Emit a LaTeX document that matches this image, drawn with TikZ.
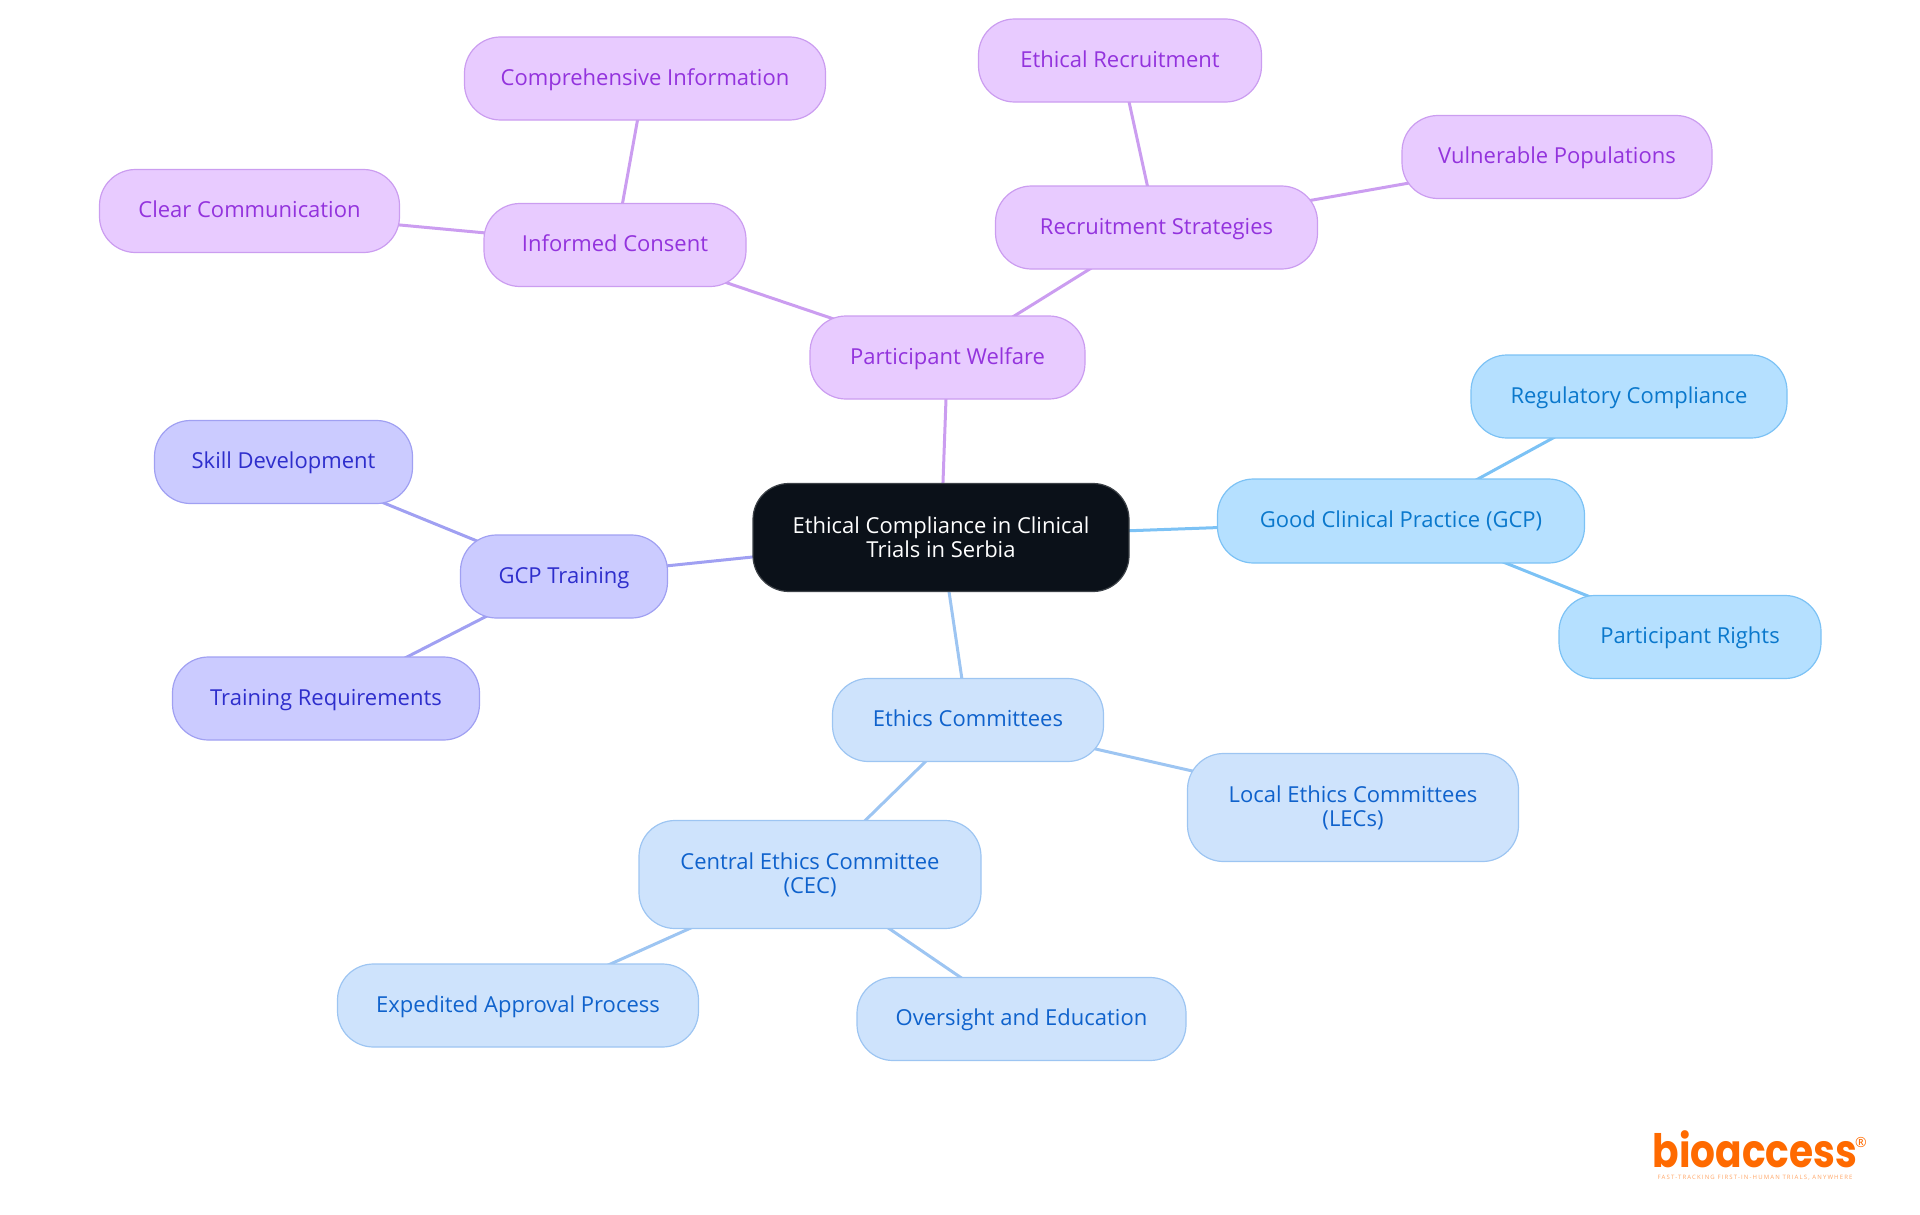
\documentclass[tikz,border=0pt]{standalone}
\usepackage{fontspec}
\usepackage{graphicx}
\setmainfont{Open Sans}
\newfontfamily\logofont{Poppins}
\newfontfamily\taglinefont[LetterSpace=19]{Open Sans}
\usetikzlibrary{backgrounds}
\definecolor{rootfill}{HTML}{0B1119}
\definecolor{purplefill}{HTML}{E8CBFF}
\definecolor{purpleline}{HTML}{CB9DF0}
\definecolor{purpletext}{HTML}{9333DD}
\definecolor{skyfill}{HTML}{B5E0FF}
\definecolor{skyline}{HTML}{7CC2F5}
\definecolor{skytext}{HTML}{0A78CC}
\definecolor{bluefill}{HTML}{CEE3FC}
\definecolor{blueline}{HTML}{9DC5F2}
\definecolor{bluetext}{HTML}{0F62CC}
\definecolor{indigofill}{HTML}{CBCBFF}
\definecolor{indigoline}{HTML}{A0A0F2}
\definecolor{indigotext}{HTML}{2E2ECC}
\definecolor{logoorange}{HTML}{FF6A00}
\tikzset{
  mindbox/.style={draw, line width=1.2pt, rounded corners=36pt, align=center, inner sep=0pt,
    text height=19pt, text depth=5.2pt, font=\fontsize{22}{24}\selectfont},
  twoline/.style={text height={}, text depth={}},
  rootbox/.style={mindbox, fill=rootfill, draw=rootfill!80!white, text=white},
  welfarebox/.style={mindbox, fill=purplefill, draw=purpleline, text=purpletext},
  gcpbox/.style={mindbox, fill=skyfill, draw=skyline, text=skytext},
  ethicsbox/.style={mindbox, fill=bluefill, draw=blueline, text=bluetext},
  trainingbox/.style={mindbox, fill=indigofill, draw=indigoline, text=indigotext},
  edge/.style={line width=3pt}
}
\begin{document}
\begin{tikzpicture}[x=1pt, y=-1pt]
\useasboundingbox (0,0) rectangle (1920,1215);

\node [rootbox, twoline, minimum width=376pt, minimum height=108pt] (root) at (941,537.5) {Ethical Compliance in Clinical\\Trials in Serbia};

\node [welfarebox, minimum width=275pt, minimum height=83pt] (welfare) at (947.5,357.5) {Participant Welfare};
\node [welfarebox, minimum width=262pt, minimum height=83pt] (consent) at (615,245) {Informed Consent};
\node [welfarebox, minimum width=361pt, minimum height=83pt] (comprehensive) at (645,78.5) {Comprehensive Information};
\node [welfarebox, minimum width=300pt, minimum height=83pt] (clear) at (249.5,211) {Clear Communication};
\node [welfarebox, minimum width=322pt, minimum height=83pt] (recruitment) at (1156.5,227.5) {Recruitment Strategies};
\node [welfarebox, minimum width=283pt, minimum height=83pt] (ethical) at (1120,60.5) {Ethical Recruitment};
\node [welfarebox, minimum width=310pt, minimum height=83pt] (vulnerable) at (1557,157) {Vulnerable Populations};

\node [gcpbox, minimum width=367pt, minimum height=84pt] (gcp) at (1401,521) {Good Clinical Practice (GCP)};
\node [gcpbox, minimum width=316pt, minimum height=83pt] (regulatory) at (1629,396.5) {Regulatory Compliance};
\node [gcpbox, minimum width=262pt, minimum height=83pt] (rights) at (1690,637) {Participant Rights};

\node [trainingbox, minimum width=207pt, minimum height=83pt] (training) at (564,576.5) {GCP Training};
\node [trainingbox, minimum width=258pt, minimum height=83pt] (skill) at (283.5,462) {Skill Development};
\node [trainingbox, minimum width=307pt, minimum height=83pt] (requirements) at (326,698.5) {Training Requirements};

\node [ethicsbox, minimum width=271pt, minimum height=83pt] (committees) at (968,720) {Ethics Committees};
\node [ethicsbox, twoline, minimum width=331pt, minimum height=108pt] (local) at (1353,807.5) {Local Ethics Committees\\(LECs)};
\node [ethicsbox, twoline, minimum width=342pt, minimum height=108pt] (central) at (810,874.5) {Central Ethics Committee\\(CEC)};
\node [ethicsbox, minimum width=361pt, minimum height=83pt] (expedited) at (518,1005.5) {Expedited Approval Process};
\node [ethicsbox, minimum width=329pt, minimum height=83pt] (oversight) at (1021.5,1019) {Oversight and Education};

\begin{scope}[on background layer]
\draw [edge, purpleline] (root.center) -- (welfare.center);
\draw [edge, purpleline] (welfare.center) -- (consent.center);
\draw [edge, purpleline] (consent.center) -- (comprehensive.center);
\draw [edge, purpleline] (consent.center) -- (clear.center);
\draw [edge, purpleline] (welfare.center) -- (recruitment.center);
\draw [edge, purpleline] (recruitment.center) -- (ethical.center);
\draw [edge, purpleline] (recruitment.center) -- (vulnerable.center);
\draw [edge, skyline] (root.center) -- (gcp.center);
\draw [edge, skyline] (gcp.center) -- (regulatory.center);
\draw [edge, skyline] (gcp.center) -- (rights.center);
\draw [edge, indigoline] (root.center) -- (training.center);
\draw [edge, indigoline] (training.center) -- (skill.center);
\draw [edge, indigoline] (training.center) -- (requirements.center);
\draw [edge, blueline] (root.center) -- (committees.center);
\draw [edge, blueline] (committees.center) -- (local.center);
\draw [edge, blueline] (committees.center) -- (central.center);
\draw [edge, blueline] (central.center) -- (expedited.center);
\draw [edge, blueline] (central.center) -- (oversight.center);
\end{scope}

% logo
\node [text=logoorange, font=\logofont\bfseries\fontsize{46}{46}\selectfont, inner sep=0pt, anchor=base] (logo) at (1755,1167) {\scalebox{0.85}[1]{bioaccess}};
\node [text=logoorange, font=\fontsize{14}{14}\selectfont, inner sep=0pt] (reg) at (1861,1142) {®};
\node [text=logoorange!60!white, font=\taglinefont\fontsize{6}{6}\selectfont, inner sep=0pt] (tagline) at (1755,1178) {FAST-TRACKING FIRST-IN-HUMAN TRIALS, ANYWHERE};
\end{tikzpicture}
\end{document}
